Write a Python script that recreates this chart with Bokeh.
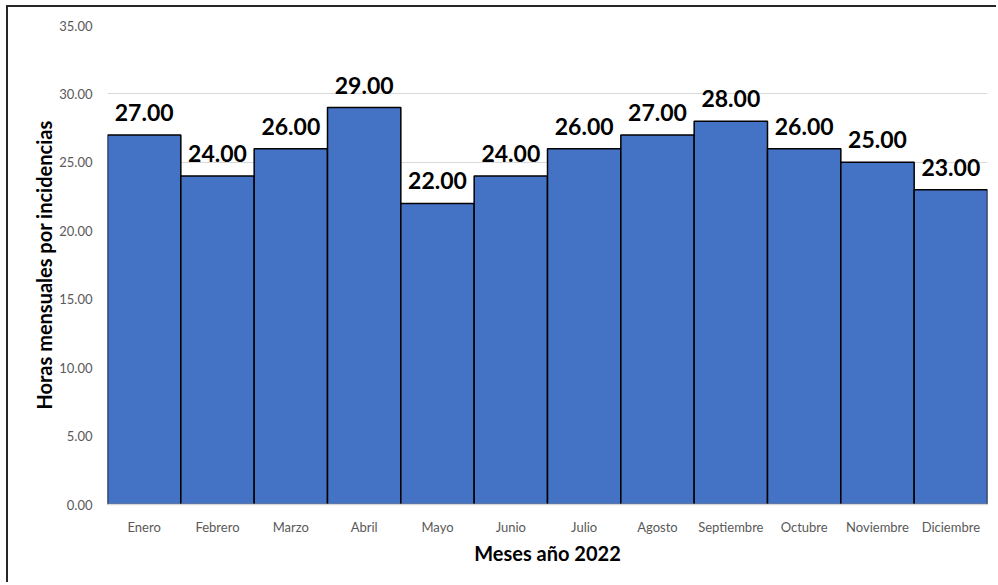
from bokeh.plotting import figure
from bokeh.models import ColumnDataSource, LabelSet, FactorRange, NumeralTickFormatter, FixedTicker
from bokeh.core.properties import value
from bokeh.embed import file_html
from bokeh.resources import INLINE

months = ["Enero", "Febrero", "Marzo", "Abril", "Mayo", "Junio", "Julio",
          "Agosto", "Septiembre", "Octubre", "Noviembre", "Diciembre"]
hours = [27, 24, 26, 29, 22, 24, 26, 27, 28, 26, 25, 23]
y_ticks = [0, 5, 10, 15, 20, 25, 30, 35]

src = ColumnDataSource(dict(m=months, h=hours, lbl=["%.2f" % v for v in hours]))

FONT = "Lato"

p = figure(x_range=FactorRange(*months, range_padding=0), y_range=(0, 35),
           width=990, height=577, output_backend="svg", toolbar_location=None,
           min_border_left=99, min_border_right=11, min_border_top=18, min_border_bottom=80)
p.styles = {"margin-left": "6px", "margin-top": "5px",
            "border-top": "2px solid #262626", "border-left": "2px solid #262626"}

p.vbar(x="m", top="h", width=1.0, source=src, fill_color="#4472C4",
       line_color="#000000", line_width=1.5)

labels = LabelSet(x="m", y="h", text="lbl", source=src, text_align="center",
                  text_baseline="alphabetic", y_offset=14,
                  text_font=value(FONT), text_font_style="bold", text_font_size="23px",
                  text_color="#000000")
p.add_layout(labels)

p.outline_line_color = None
p.xgrid.grid_line_color = None
p.ygrid.grid_line_color = "#d9d9d9"
p.ygrid.grid_line_width = 1

p.yaxis.ticker = FixedTicker(ticks=y_ticks)
p.yaxis.formatter = NumeralTickFormatter(format="0.00")
p.yaxis.axis_line_color = None
p.yaxis.major_tick_line_color = None
p.yaxis.minor_tick_line_color = None
p.yaxis.major_label_text_font = FONT
p.yaxis.major_label_text_font_size = "13px"
p.yaxis.major_label_text_color = "#595959"
p.yaxis.major_label_standoff = 9
p.yaxis.axis_label = "Horas mensuales por incidencias"
p.yaxis.axis_label_text_font = FONT
p.yaxis.axis_label_text_font_style = "bold"
p.yaxis.axis_label_text_font_size = "20px"
p.yaxis.axis_label_text_color = "#000000"
p.yaxis.axis_label_standoff = 0

p.xaxis.axis_line_color = "#d9d9d9"
p.xaxis.axis_line_width = 1.5
p.xaxis.major_tick_line_color = None
p.xaxis.minor_tick_line_color = None
p.xaxis.major_label_text_font = FONT
p.xaxis.major_label_text_font_size = "13px"
p.xaxis.major_label_text_color = "#595959"
p.xaxis.major_label_standoff = 8
p.xaxis.axis_label = "Meses año 2022"
p.xaxis.axis_label_text_font = FONT
p.xaxis.axis_label_text_font_style = "bold"
p.xaxis.axis_label_text_font_size = "20px"
p.xaxis.axis_label_text_color = "#000000"
p.xaxis.axis_label_standoff = 3

open("out.html", "w").write(file_html(p, INLINE))
